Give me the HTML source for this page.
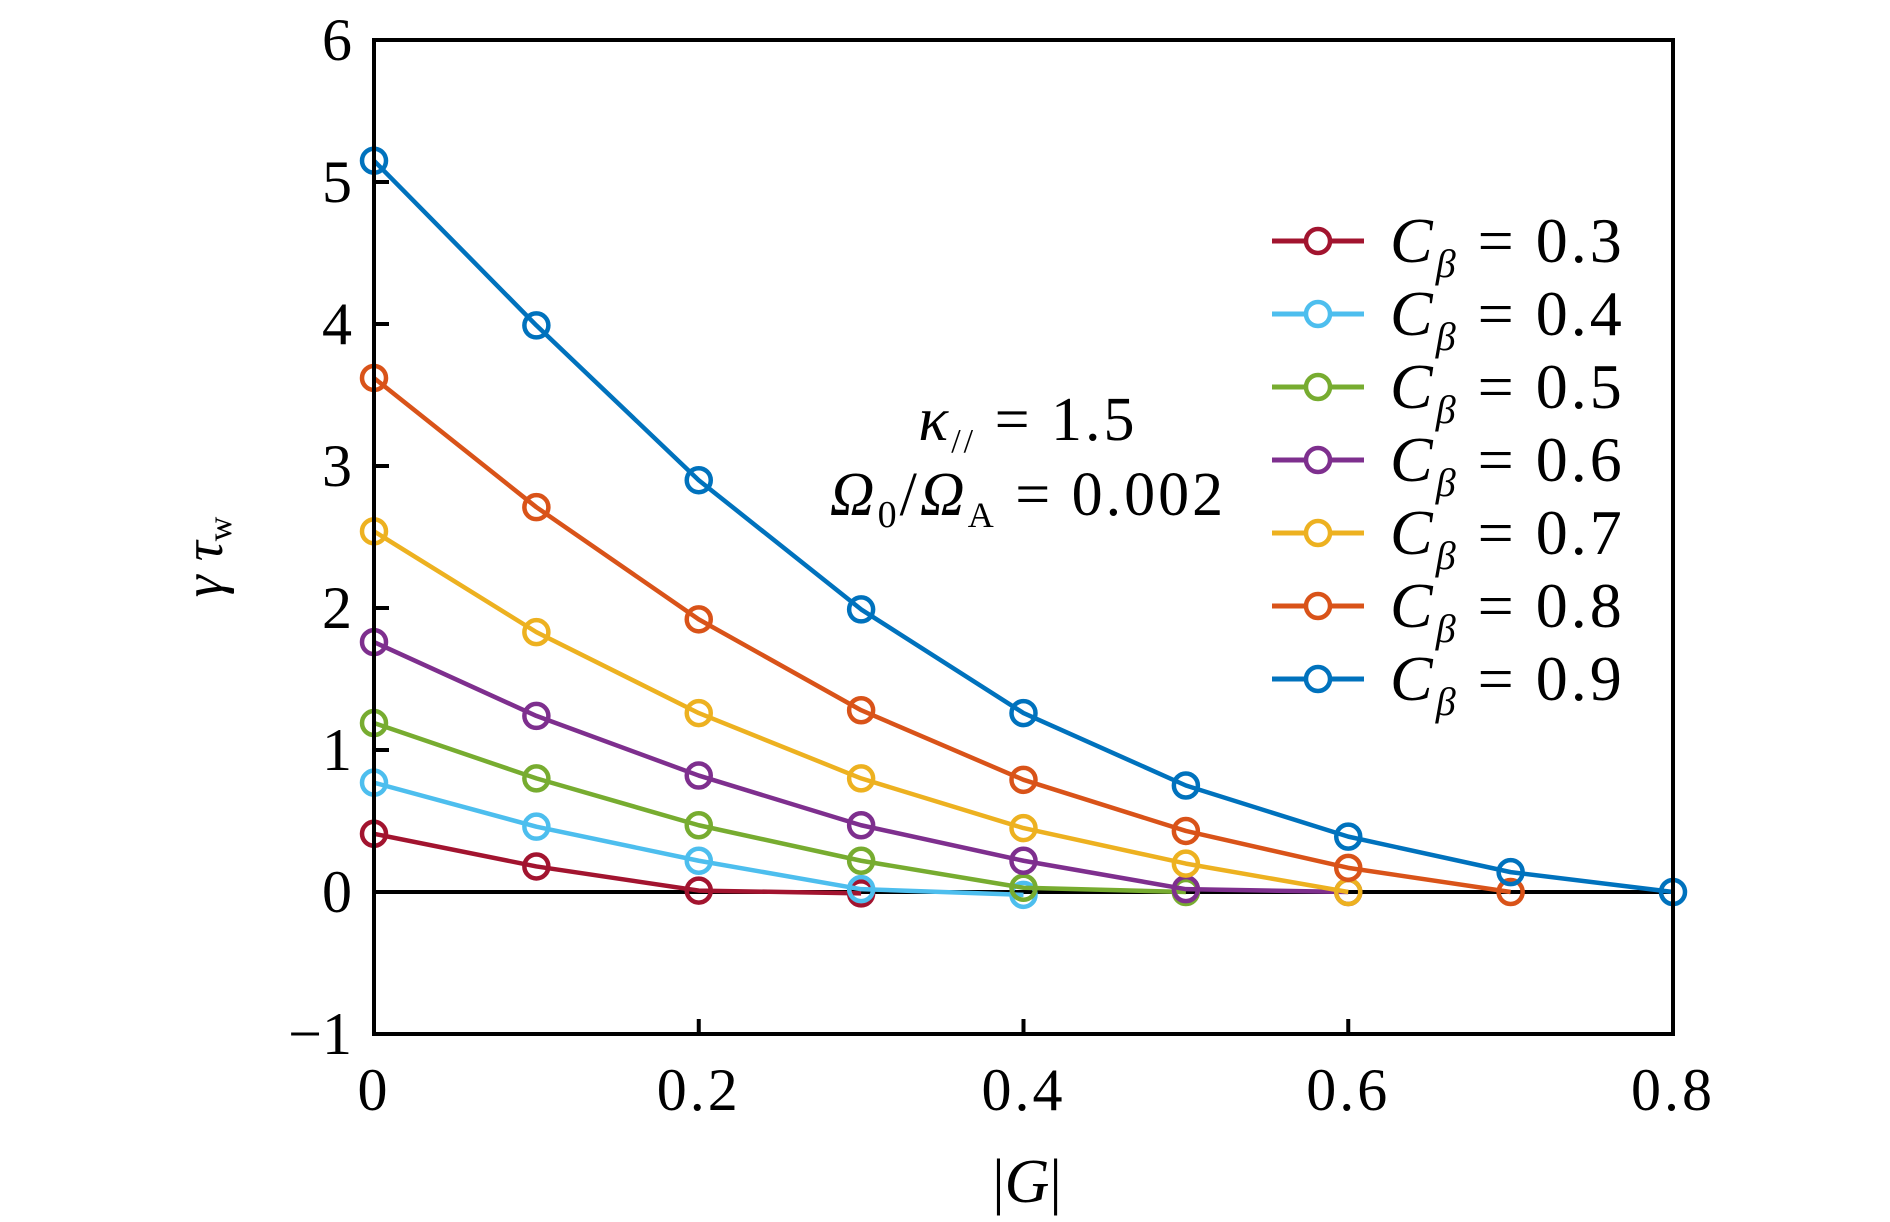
<!DOCTYPE html>
<html><head><meta charset="utf-8"><style>
html,body{margin:0;padding:0;background:#fff;}
svg text{font-family:"Liberation Serif",serif;fill:#000;}
</style></head><body>
<svg id="chart" width="1890" height="1217" viewBox="0 0 1890 1217" xmlns="http://www.w3.org/2000/svg">
<g id="grid"></g>
<g id="series"></g>
<rect x="374" y="40" width="1299" height="994" fill="none" stroke="#000" stroke-width="4"/>
<g id="axes"></g>
<g id="legend"></g>
<text x="1028" y="440" font-size="62" text-anchor="middle" letter-spacing="3"><tspan font-style="italic">κ</tspan><tspan font-size="34" dy="12">//</tspan><tspan dy="-12"> = 1.5</tspan></text>
<text x="1028" y="515" font-size="62" text-anchor="middle" letter-spacing="3"><tspan font-style="italic">Ω</tspan><tspan font-size="38" dy="12">0</tspan><tspan dy="-12">/</tspan><tspan font-style="italic">Ω</tspan><tspan font-size="36" dy="12">A</tspan><tspan dy="-12"> = 0.002</tspan></text>
<text transform="translate(222,557) rotate(-90)" font-size="56" text-anchor="middle"><tspan font-style="italic">γ τ</tspan><tspan font-size="34" dy="9">w</tspan></text>
<text x="1027" y="1202" font-size="62" text-anchor="middle">|<tspan font-style="italic">G</tspan>|</text>
</svg>
<script>
const xValues = [0, 0.1, 0.2, 0.3, 0.4, 0.5, 0.6, 0.7, 0.8];
const seriesNames = ["0.3","0.4","0.5","0.6","0.7","0.8","0.9"];
const s03 = [0.41, 0.18, 0.01, -0.01];
const s04 = [0.77, 0.46, 0.22, 0.02, -0.02];
const s05 = [1.19, 0.80, 0.47, 0.22, 0.03, 0.0];
const s06 = [1.76, 1.24, 0.82, 0.47, 0.22, 0.02, 0.0];
const s07 = [2.54, 1.83, 1.26, 0.80, 0.45, 0.20, 0.0];
const s08 = [3.62, 2.71, 1.92, 1.28, 0.79, 0.43, 0.17, 0.0];
const s09 = [5.15, 3.99, 2.90, 1.99, 1.26, 0.75, 0.39, 0.14, 0.0];
const xTicks = [0, 0.2, 0.4, 0.6, 0.8];
const xTickLabels = ["0", "0.2", "0.4", "0.6", "0.8"];
const yTicks = [-1, 0, 1, 2, 3, 4, 5, 6];
const yTickLabels = ["\u22121", "0", "1", "2", "3", "4", "5", "6"];
const colors = ["#A2142F","#4DBEEE","#77AC30","#7E2F8E","#EDB120","#D95319","#0072BD"];
const allSeries = [s03,s04,s05,s06,s07,s08,s09];

const L=374,R=1673,T=40,B=1034;
const xS=v=>L+(v-0)/(0.8-0)*(R-L);
const yS=v=>B-(v-(-1))/(6-(-1))*(B-T);
const NS="http://www.w3.org/2000/svg";
function mk(tag,attrs,parent){const e=document.createElementNS(NS,tag);for(const k in attrs)e.setAttribute(k,attrs[k]);parent.appendChild(e);return e;}
const axes=document.getElementById('axes');
const zl=mk('line',{x1:L,x2:R,y1:yS(0),y2:yS(0),stroke:'#000','stroke-width':4},document.getElementById('grid'));


xTicks.forEach((t,i)=>{
  const tk=mk('line',{x1:xS(t),x2:xS(t),y1:B,y2:B-15,stroke:'#000','stroke-width':4},axes);
  
  
  const tx=mk('text',{x:xS(t),y:1110,'font-size':60,'text-anchor':'middle','letter-spacing':3},axes);
  tx.textContent=xTickLabels[i];
  
  
});
yTicks.forEach((t,i)=>{
  const tk=mk('line',{x1:L,x2:L+15,y1:yS(t),y2:yS(t),stroke:'#000','stroke-width':4},axes);
  
  
  const tx=mk('text',{x:352,y:yS(t)+20,'font-size':60,'text-anchor':'end'},axes);
  tx.textContent=yTickLabels[i];
  
  
});
const sg=document.getElementById('series');
allSeries.forEach((s,k)=>{
  const g=mk('g',{},sg);
  
  
  const pts=s.map((v,i)=>xS(xValues[i])+','+yS(v)).join(' ');
  const pl=mk('polyline',{points:pts,fill:'none',stroke:colors[k],'stroke-width':4.5,'stroke-linejoin':'round'},g);
  
  
  s.forEach((v,i)=>{
    const c=mk('circle',{cx:xS(xValues[i]),cy:yS(v),r:12,fill:'none',stroke:colors[k],'stroke-width':4.5},g);
    
    
  });
});
const lg=document.getElementById('legend');
seriesNames.forEach((n,k)=>{
  const y=241+k*73;
  const g=mk('g',{},lg);
  
  
  mk('line',{x1:1272,x2:1364,y1:y,y2:y,stroke:colors[k],'stroke-width':5},g);
  mk('circle',{cx:1318,cy:y,r:12,fill:'#fff',stroke:colors[k],'stroke-width':4.5},g);
  const t=mk('text',{x:1390,y:y+21,'font-size':64,'letter-spacing':3},g);
  t.innerHTML='<tspan font-style="italic">C</tspan><tspan font-style="italic" font-size="40" dy="15">β</tspan><tspan dy="-15"> = '+n+'</tspan>';
});
</script>
</body></html>
